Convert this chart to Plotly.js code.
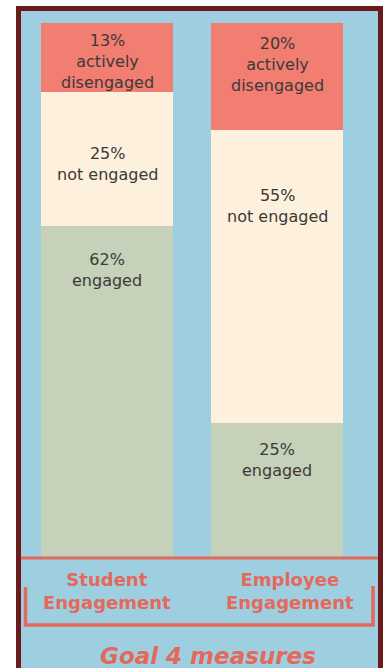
<!DOCTYPE html>
<html>
<head>
<meta charset="utf-8">
<script src="https://cdn.plot.ly/plotly-3.0.1.min.js"></script>
<style>
  html, body { margin: 0; padding: 0; background: #ffffff; }
  #chart { width: 383px; height: 668px; }
</style>
</head>
<body>
<div id="chart"></div>
<script>
// ---- data ----
const categories = ['Student Engagement', 'Employee Engagement'];
const categoryLabels = ['Student<br>Engagement', 'Employee<br>Engagement'];
const engaged = [62, 25];
const notEngaged = [25, 55];
const activelyDisengaged = [13, 20];
const seriesNames = ['engaged', 'not engaged', 'actively<br>disengaged'];
const chartTitle = 'Goal 4 measures';

// ---- styles ----
const colors = ['#c6d1b9', '#fdf0dc', '#f27d71'];
const frameColor = '#6a1c1c';
const bgBlue = '#9ecfe0';
const accent = '#e4695b';
const textColor = '#3a3a38';
const labelFont = 'DejaVu Sans, Arial, sans-serif';
// px offset from segment top to top of label block, per series (rows) per category (cols)
const labelOffsets = [[22, 15], [50, 54], [6, 9]];

const series = [engaged, notEngaged, activelyDisengaged];

const traces = series.map((vals, i) => ({
  type: 'bar',
  x: categories,
  y: vals,
  width: 0.776,
  marker: { color: colors[i], line: { width: 0 } },
  hoverinfo: 'skip',
  showlegend: false
}));

const annotations = [];
categories.forEach((cat, c) => {
  let cum = 0;
  series.forEach((vals, s) => {
    cum += vals[c];
    annotations.push({
      xref: 'x', yref: 'y', x: cat, y: cum,
      yanchor: 'top', xanchor: 'center',
      yshift: -labelOffsets[s][c],
      showarrow: false,
      text: vals[c] + '%<br>' + seriesNames[s],
      font: { family: labelFont, size: 16, color: textColor }
    });
  });
});

// category labels below the bars
const catLabelX = [0.241, 0.7535];
categoryLabels.forEach((lab, c) => {
  annotations.push({
    xref: 'paper', yref: 'paper', x: catLabelX[c], y: -0.0666,
    xanchor: 'center', yanchor: 'middle', showarrow: false,
    text: '<b>' + lab + '</b>',
    font: { family: labelFont, size: 18, color: accent }
  });
});

annotations.push({
  xref: 'paper', yref: 'paper', x: 0.524, y: -0.1876,
  xanchor: 'center', yanchor: 'middle', showarrow: false,
  text: '<b><i>' + chartTitle + '</i></b>',
  font: { family: labelFont, size: 23, color: accent }
});

const shapes = [
  { type: 'rect', xref: 'paper', yref: 'paper', x0: -0.014, x1: 1.05, y0: -0.3, y1: 1.0319,
    fillcolor: frameColor, line: { width: 0 }, layer: 'below' },
  { type: 'rect', xref: 'paper', yref: 'paper', x0: 0, x1: 1.0, y0: -0.3, y1: 1.0225,
    fillcolor: bgBlue, line: { width: 0 }, layer: 'below' },
  { type: 'line', xref: 'paper', yref: 'paper', x0: 0, x1: 1.0, y0: -0.00375, y1: -0.00375,
    line: { color: accent, width: 3 } },
  { type: 'path', xref: 'paper', yref: 'paper',
    path: 'M 0.0126 -0.0582 L 0.0126 -0.1295 L 0.986 -0.1295 L 0.986 -0.0563',
    line: { color: accent, width: 3.5 } }
];

const layout = {
  width: 383, height: 668,
  margin: { l: 21, r: 5, t: 23, b: 112, pad: 0 },
  paper_bgcolor: '#ffffff',
  plot_bgcolor: bgBlue,
  barmode: 'stack',
  bargap: 0,
  xaxis: { type: 'category', range: [-0.506, 1.594], visible: false, fixedrange: true },
  yaxis: { range: [0, 100], visible: false, fixedrange: true },
  showlegend: false,
  annotations: annotations,
  shapes: shapes
};

Plotly.newPlot('chart', traces, layout, { displayModeBar: false, staticPlot: true });
</script>
</body>
</html>
